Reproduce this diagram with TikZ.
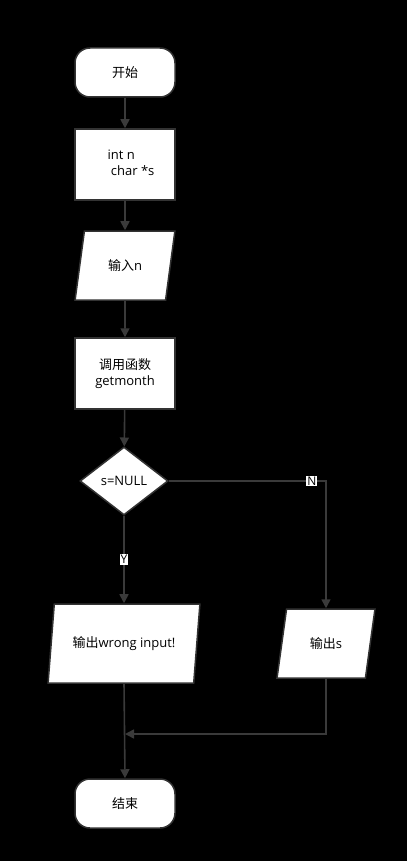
\documentclass[tikz,border=0pt]{standalone}
\usepackage{fontspec}
\setmainfont{Open Sans}
\newfontfamily\cjk{Noto Sans CJK SC}
\usetikzlibrary{arrows.meta, shapes.geometric}

\begin{document}
\begin{tikzpicture}[
		x=1pt, y=-1pt,
		every node/.style={font=\fontsize{13}{16}\selectfont, align=center, text=black},
		arrow/.style={-{Triangle[length=9pt, width=9pt]}, line width=1.6pt, draw=linegray},
		shapebox/.style={draw=boxgray, line width=1.5pt, fill=white},
		terminal/.style={shapebox, rectangle, rounded corners=15pt, minimum width=100pt, minimum height=49pt},
		process/.style={shapebox, rectangle, minimum width=100pt, minimum height=71pt},
		io/.style={shapebox, trapezium, trapezium left angle=72, trapezium right angle=108, trapezium stretches=true, inner sep=0pt},
		decision/.style={shapebox, diamond, aspect=1.3, minimum width=88pt, minimum height=68pt, inner sep=0pt},
		yn/.style={fill=white, inner sep=1pt, font=\fontsize{12}{13}\selectfont}
		]
		\definecolor{linegray}{HTML}{3A3A3A}
		\definecolor{boxgray}{HTML}{333333}
		
		% Background
		\fill[black] (0,0) rectangle (407,861);
		\useasboundingbox (0,0) rectangle (407,861);
		
		% Nodes
		\node[terminal] (start) at (125,72.5) {\cjk 开始};
		\node[process] (decl) at (125,164.5) {\hspace*{12pt}\begin{tabular}{@{}l@{}}int n\\ \ char *s\end{tabular}};
		\node[io, minimum width=100pt, minimum height=69pt] (inputn) at (125,265.5) {{\cjk 输入}n};
		\node[process] (call) at (125,373.5) {{\cjk 调用函数}\\getmonth};
		\node[decision] (cond) at (124,481) {s=NULL};
		\node[io, minimum width=152pt, minimum height=79pt] (wrong) at (124,643.5) {{\cjk 输出}wrong input!};
		\node[io, minimum width=98pt, minimum height=69pt] (outs) at (326,643.5) {{\cjk 输出}s};
		\node[terminal] (stop) at (125,803.5) {\cjk 结束};
		\coordinate (merge) at (125,734);
		
		% Main flow
		\draw[arrow] (start) -- (decl);
		\draw[arrow] (decl) -- (inputn);
		\draw[arrow] (inputn) -- (call);
		\draw[arrow] (call) -- (cond);
		
		% Branches
		\draw[arrow] (cond) -- node[yn, pos=0.5] {Y} (wrong);
		\draw[arrow] (cond.east) -| node[yn, pos=0.455] {N} (outs.north);
		
		% Join
		\draw[arrow] (outs.south) |- (merge);
		\draw[arrow] (wrong.south) -- (stop.north);
		
	\end{tikzpicture}
\end{document}
